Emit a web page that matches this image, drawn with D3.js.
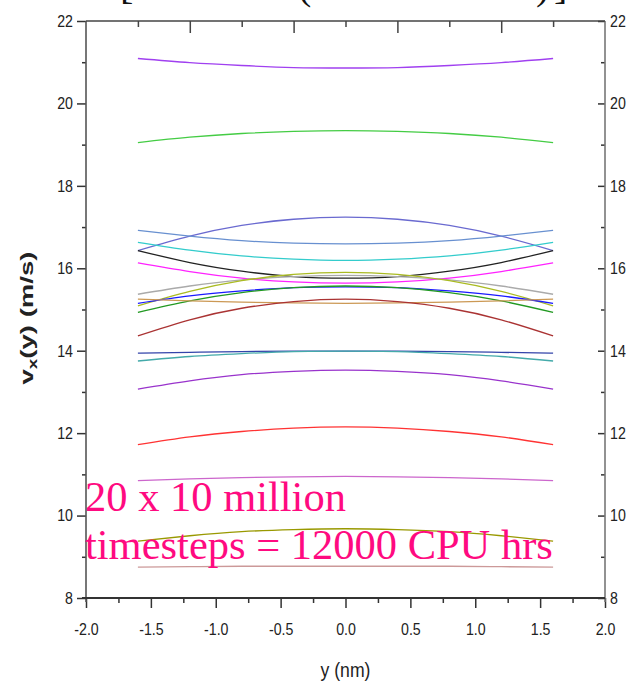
<!DOCTYPE html>
<html>
<head>
<meta charset="utf-8">
<script src="https://cdn.jsdelivr.net/npm/d3@7"></script>
<style>
  html, body { margin: 0; padding: 0; background: #fff; }
  svg { display: block; }
</style>
</head>
<body>
<svg id="chart" width="627" height="684"></svg>
<script>
// Sampling positions across the channel (nm)
const positions = [-1.6, -1.2, -0.8, -0.4, 0, 0.4, 0.8, 1.2, 1.6];

// Streamwise velocity profiles v_x(y), m/s, one array per run
const run01 = [21.09, 20.99, 20.92, 20.87, 20.86, 20.87, 20.92, 20.99, 21.09];
const run02 = [19.05, 19.18, 19.27, 19.32, 19.34, 19.32, 19.27, 19.18, 19.05];
const run03 = [16.43, 16.78, 17.04, 17.19, 17.24, 17.19, 17.04, 16.78, 16.43];
const run04 = [16.92, 16.78, 16.67, 16.61, 16.59, 16.61, 16.67, 16.78, 16.92];
const run05 = [16.63, 16.44, 16.30, 16.22, 16.19, 16.22, 16.30, 16.44, 16.63];
const run06 = [16.43, 16.14, 15.93, 15.80, 15.76, 15.80, 15.93, 16.14, 16.43];
const run07 = [16.13, 15.92, 15.76, 15.67, 15.64, 15.67, 15.76, 15.92, 16.13];
const run08 = [15.37, 15.57, 15.72, 15.80, 15.83, 15.80, 15.72, 15.57, 15.37];
const run09 = [15.09, 15.44, 15.70, 15.85, 15.90, 15.85, 15.70, 15.44, 15.09];
const run10 = [15.15, 15.33, 15.45, 15.53, 15.55, 15.53, 15.45, 15.33, 15.15];
const run11 = [14.93, 15.21, 15.41, 15.53, 15.57, 15.53, 15.41, 15.21, 14.93];
const run12 = [15.25, 15.21, 15.18, 15.16, 15.15, 15.16, 15.18, 15.21, 15.25];
const run13 = [14.36, 14.75, 15.03, 15.19, 15.25, 15.19, 15.03, 14.75, 14.36];
const run14 = [13.94, 13.96, 13.98, 13.99, 13.99, 13.99, 13.98, 13.96, 13.94];
const run15 = [13.75, 13.86, 13.93, 13.98, 13.99, 13.98, 13.93, 13.86, 13.75];
const run16 = [13.07, 13.27, 13.42, 13.50, 13.53, 13.50, 13.42, 13.27, 13.07];
const run17 = [11.72, 11.91, 12.04, 12.12, 12.15, 12.12, 12.04, 11.91, 11.72];
const run18 = [10.85, 10.89, 10.92, 10.94, 10.95, 10.94, 10.92, 10.89, 10.85];
const run19 = [9.38, 9.51, 9.61, 9.66, 9.68, 9.66, 9.61, 9.51, 9.38];
const run20 = [8.75, 8.76, 8.77, 8.77, 8.77, 8.77, 8.77, 8.76, 8.75];

const runs = [run01, run02, run03, run04, run05, run06, run07, run08, run09, run10,
              run11, run12, run13, run14, run15, run16, run17, run18, run19, run20];

const runColors = ["#a040f0", "#44cc44", "#6a6ad0", "#6890d0", "#33cccc",
                   "#222222", "#ff22ff", "#aaaaaa", "#aabb22", "#1a1aff",
                   "#229922", "#cc9955", "#aa3333", "#3344aa", "#44aaaa",
                   "#9933cc", "#ff3333", "#cc66cc", "#999900", "#cc9999"];

// Axis ticks
const yMajorTicks = [8, 10, 12, 14, 16, 18, 20, 22];
const yMinorTicks = [9, 11, 13, 15, 17, 19, 21];
const xMajorTicks = [-2.0, -1.5, -1.0, -0.5, 0.0, 0.5, 1.0, 1.5, 2.0];
const xMinorTicks = [-1.75, -1.25, -0.75, -0.25, 0.25, 0.75, 1.25, 1.75];
const topLongTicks = [-1.2, -0.4, 0.4, 1.2];
const topShortTicks = [-1.6, -0.8, 0.0, 0.8, 1.6];

const noteLines = ["20 x 10 million", "timesteps = 12000 CPU hrs"];
const headingGlyphs = [["[", 120], ["(", 298], [")", 536], ["]", 554]];

const svg = d3.select("#chart");
const plotLeft = 86, plotRight = 605, plotTop = 21, plotBottom = 598;

const x = d3.scaleLinear().domain([-2, 2]).range([plotLeft, plotRight]);
const y = d3.scaleLinear().domain([8, 22]).range([plotBottom, plotTop]);

const tickFont = "Liberation Sans, Arial, sans-serif";
const squeeze = 0.86;

// Heading characters running off the top edge
svg.append("g").selectAll("text").data(headingGlyphs).join("text")
  .attr("x", d => d[1]).attr("y", -1)
  .attr("font-family", "Liberation Serif, Times New Roman, serif")
  .attr("font-size", 40).attr("fill", "#111")
  .text(d => d[0]);

// Profiles
const line = d3.line()
  .x((d, i) => x(positions[i]))
  .y(d => y(d))
  .curve(d3.curveNatural);

svg.append("g").selectAll("path").data(runs).join("path")
  .attr("d", line)
  .attr("fill", "none")
  .attr("stroke", (d, i) => runColors[i])
  .attr("stroke-width", 1.3);

// Axes
function styleAxis(g, tickColor) {
  g.select(".domain").remove();
  g.selectAll(".tick line").attr("stroke", tickColor).attr("stroke-width", 1.5);
}

// left
const gl = svg.append("g").attr("transform", `translate(${plotLeft},0)`)
  .call(d3.axisLeft(y).tickValues(yMajorTicks).tickSize(9).tickPadding(4).tickFormat(d3.format("d")));
styleAxis(gl, "#333");
gl.selectAll("text")
  .attr("font-family", tickFont).attr("font-size", 16.5).attr("fill", "#222")
  .attr("x", -13 / squeeze).attr("transform", `scale(${squeeze},1)`);
const glm = svg.append("g").attr("transform", `translate(${plotLeft},0)`)
  .call(d3.axisLeft(y).tickValues(yMinorTicks).tickSize(4).tickFormat(""));
styleAxis(glm, "#333");

// right
const gr = svg.append("g").attr("transform", `translate(${plotRight},0)`)
  .call(d3.axisRight(y).tickValues(yMajorTicks).tickSize(-7).tickPadding(5).tickFormat(d3.format("d")));
styleAxis(gr, "#333");
gr.selectAll("text")
  .attr("font-family", tickFont).attr("font-size", 16.5).attr("fill", "#222")
  .attr("x", 5 / squeeze).attr("transform", `scale(${squeeze},1)`);
const grm = svg.append("g").attr("transform", `translate(${plotRight},0)`)
  .call(d3.axisRight(y).tickValues(yMinorTicks).tickSize(-4).tickFormat(""));
styleAxis(grm, "#333");

// bottom
const gb = svg.append("g").attr("transform", `translate(0,${plotBottom})`)
  .call(d3.axisBottom(x).tickValues(xMajorTicks).tickSize(10).tickPadding(15).tickFormat(d => d.toFixed(1)));
styleAxis(gb, "#333");
gb.selectAll(".tick text")
  .attr("font-family", tickFont).attr("font-size", 16.5).attr("fill", "#222")
  .attr("transform", `scale(${squeeze},1)`);
const gbm = svg.append("g").attr("transform", `translate(0,${plotBottom})`)
  .call(d3.axisBottom(x).tickValues(xMinorTicks).tickSize(5).tickFormat(""));
styleAxis(gbm, "#333");

// top (inward ticks)
const gt = svg.append("g").attr("transform", `translate(0,${plotTop})`)
  .call(d3.axisTop(x).tickValues(topLongTicks).tickSize(-12).tickFormat(""));
styleAxis(gt, "#444");
const gts = svg.append("g").attr("transform", `translate(0,${plotTop})`)
  .call(d3.axisTop(x).tickValues(topShortTicks).tickSize(-6).tickFormat(""));
styleAxis(gts, "#444");

// frame
const frame = svg.append("g");
frame.append("line").attr("x1", plotLeft).attr("x2", plotLeft).attr("y1", plotTop).attr("y2", plotBottom + 4)
  .attr("stroke", "#555").attr("stroke-width", 1.6);
frame.append("line").attr("x1", plotRight).attr("x2", plotRight).attr("y1", plotTop).attr("y2", plotBottom + 4)
  .attr("stroke", "#777").attr("stroke-width", 1.6);
frame.append("line").attr("x1", plotLeft).attr("x2", plotRight).attr("y1", plotTop).attr("y2", plotTop)
  .attr("stroke", "#444").attr("stroke-width", 1.6);
frame.append("line").attr("x1", plotLeft - 4).attr("x2", plotRight).attr("y1", plotBottom).attr("y2", plotBottom)
  .attr("stroke", "#333").attr("stroke-width", 2.2);

// Axis titles
svg.append("text")
  .attr("transform", `translate(${(plotLeft + plotRight) / 2},677) scale(${squeeze},1)`)
  .attr("text-anchor", "middle")
  .attr("font-family", tickFont).attr("font-size", 20.5).attr("fill", "#222")
  .text("y (nm)");

const ylab = svg.append("text")
  .attr("transform", "translate(33,318) rotate(-90) scale(1.45,1)")
  .attr("text-anchor", "middle")
  .attr("font-family", tickFont).attr("font-weight", "bold").attr("font-size", 19).attr("fill", "#222");
ylab.append("tspan").text("v");
ylab.append("tspan").attr("font-size", 13).attr("dy", 4).text("x");
ylab.append("tspan").attr("dy", -4).text("(y) (m/s)");

// Run-count note
svg.append("g").selectAll("text").data(noteLines).join("text")
  .attr("x", 85).attr("y", (d, i) => 511 + i * 48)
  .attr("font-family", "Liberation Serif, Times New Roman, serif")
  .attr("font-size", 42.5).attr("fill", "#ff0a80")
  .text(d => d);
</script>
</body>
</html>
